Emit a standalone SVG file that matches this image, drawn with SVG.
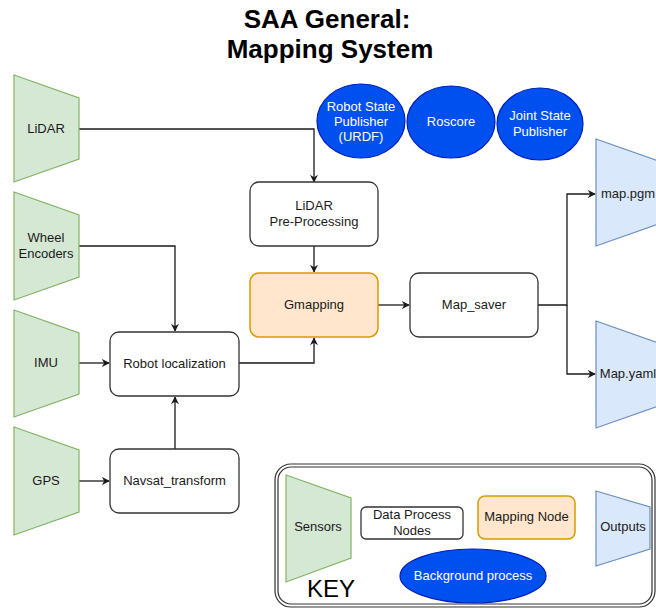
<svg xmlns="http://www.w3.org/2000/svg" width="656" height="610" viewBox="0 0 656 610">
<style>
.t{font-family:"Liberation Sans",Arial,sans-serif;font-size:13px;fill:#1a1a1a;text-anchor:middle}
.w{fill:#ffffff}
.sens{fill:#d5e8d4;stroke:#82b366;stroke-width:1.2}
.out{fill:#dae8fc;stroke:#6c8ebf;stroke-width:1.2}
.proc{fill:#ffffff;stroke:#333333;stroke-width:1.3}
.map{fill:#ffe6cc;stroke:#d79b00;stroke-width:1.5}
.bg{fill:#0050ef;stroke:#001dbc;stroke-width:1.2}
.c{fill:none;stroke:#1a1a1a;stroke-width:1.3}
.ttl{font-family:"Liberation Sans",Arial,sans-serif;font-size:26px;font-weight:bold;text-anchor:middle;fill:#000}
</style>
<defs>
<marker id="a" viewBox="0 0 10 10" refX="9" refY="5" markerWidth="8" markerHeight="8" markerUnits="userSpaceOnUse" orient="auto">
<path d="M0,0 L10,5 L0,10 L3,5 Z" fill="#1a1a1a"/>
</marker>
</defs>
<rect width="656" height="610" fill="#ffffff"/>
<g id="title">
<text class="ttl" x="327" y="28">SAA General:</text>
<text class="ttl" x="330" y="58">Mapping System</text>
</g>
<g id="connectors">
<path class="c" d="M79,129 H314 V182" marker-end="url(#a)"/>
<path class="c" d="M314,246 V272" marker-end="url(#a)"/>
<path class="c" d="M79,246 H175 V331" marker-end="url(#a)"/>
<path class="c" d="M79,363 H109" marker-end="url(#a)"/>
<path class="c" d="M79,481 H109" marker-end="url(#a)"/>
<path class="c" d="M175,449 V397" marker-end="url(#a)"/>
<path class="c" d="M239,363 H314 V338" marker-end="url(#a)"/>
<path class="c" d="M378,305 H409" marker-end="url(#a)"/>
<path class="c" d="M538,305 H567 V194 H595" marker-end="url(#a)"/>
<path class="c" d="M567,305 V374 H595" marker-end="url(#a)"/>
</g>
<g id="lidar">
<polygon class="sens" points="14,75 79,98 79,159 14,182"/>
<text class="t" x="46" y="133">LiDAR</text>
</g>
<g id="wheel">
<polygon class="sens" points="14,192 79,215 79,277 14,300"/>
<text class="t" x="46" y="242">Wheel</text>
<text class="t" x="46" y="258">Encoders</text>
</g>
<g id="imu">
<polygon class="sens" points="14,310 79,333 79,394 14,417"/>
<text class="t" x="46" y="367">IMU</text>
</g>
<g id="gps">
<polygon class="sens" points="14,427 79,450 79,512 14,535"/>
<text class="t" x="46" y="485">GPS</text>
</g>
<g id="lidar_pre">
<rect class="proc" x="250" y="182" width="128" height="64" rx="9"/>
<text class="t" x="314" y="210">LiDAR</text>
<text class="t" x="314" y="226">Pre-Processing</text>
</g>
<g id="gmapping">
<rect class="map" x="250" y="273" width="128" height="64" rx="9"/>
<text class="t" x="314" y="309">Gmapping</text>
</g>
<g id="robot_loc">
<rect class="proc" x="110" y="332" width="129" height="64" rx="9"/>
<text class="t" x="174.5" y="368">Robot localization</text>
</g>
<g id="navsat">
<rect class="proc" x="110" y="449" width="129" height="64" rx="9"/>
<text class="t" x="174.5" y="485">Navsat_transform</text>
</g>
<g id="map_saver">
<rect class="proc" x="410" y="273" width="128" height="64" rx="9"/>
<text class="t" x="474" y="309">Map_saver</text>
</g>
<g id="map_pgm">
<polygon class="out" points="596,139 661,162 661,223 596,246"/>
<text class="t" x="628" y="198">map.pgm</text>
</g>
<g id="map_yaml">
<polygon class="out" points="596,321 661,344 661,405 596,428"/>
<text class="t" x="628" y="378">Map.yaml</text>
</g>
<g id="rsp">
<ellipse class="bg" cx="361" cy="121" rx="44" ry="37"/>
<text class="t w" x="361" y="111">Robot State</text>
<text class="t w" x="361" y="126">Publisher</text>
<text class="t w" x="361" y="141">(URDF)</text>
</g>
<g id="roscore">
<ellipse class="bg" cx="451" cy="122" rx="44" ry="36"/>
<text class="t w" x="451" y="126">Roscore</text>
</g>
<g id="jsp">
<ellipse class="bg" cx="540" cy="124" rx="43" ry="36"/>
<text class="t w" x="540" y="120">Joint State</text>
<text class="t w" x="540" y="136">Publisher</text>
</g>
<g id="key">
<rect x="275" y="464" width="380" height="143" rx="16" fill="#ffffff" stroke="#333333" stroke-width="1.2"/>
<rect x="278" y="467" width="374" height="137" rx="13" fill="none" stroke="#333333" stroke-width="1.2"/>
<polygon class="sens" points="286,475 351,498 351,558 286,582"/>
<text class="t" x="318" y="531">Sensors</text>
<rect class="proc" x="361" y="507" width="102" height="32" rx="5"/>
<text class="t" x="412" y="519">Data Process</text>
<text class="t" x="412" y="535">Nodes</text>
<rect class="map" x="478" y="496" width="97" height="43" rx="7"/>
<text class="t" x="526.5" y="521">Mapping Node</text>
<polygon class="out" points="596,491 650,507 650,549 596,566"/>
<text class="t" x="623" y="531">Outputs</text>
<ellipse class="bg" cx="473" cy="576" rx="73" ry="27"/>
<text class="t w" x="473" y="580">Background process</text>
<text x="307" y="597" style="font-family:'Liberation Sans',Arial,sans-serif;font-size:24px" fill="#000">KEY</text>
</g>
</svg>
